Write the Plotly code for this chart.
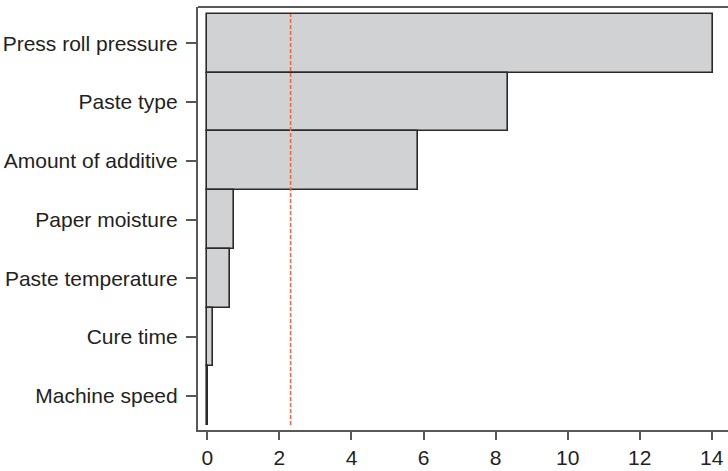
import plotly.graph_objects as go

categories = ["Press roll pressure", "Paste type", "Amount of additive",
              "Paper moisture", "Paste temperature", "Cure time", "Machine speed"]
effects = [14.04, 8.33, 5.85, 0.73, 0.63, 0.16, 0.02]
threshold = 2.31
x_ticks = [0, 2, 4, 6, 8, 10, 12, 14]

font_family = "Liberation Sans, Arial, Helvetica, sans-serif"
axis_col = "#585858"

fig = go.Figure()
fig.add_trace(go.Bar(
    x=effects, y=categories, orientation="h", base=0, width=1,
    marker=dict(color="#D1D2D4", line=dict(color="#2a2a2a", width=1.6)),
    showlegend=False, hoverinfo="skip",
))

fig.add_shape(type="line", x0=threshold, x1=threshold, xref="x",
              y0=-0.5, y1=len(categories) - 0.5, yref="y",
              line=dict(color="#F26A3E", width=1.6, dash="4px,2px"))
# top frame line
fig.add_shape(type="line", x0=0, x1=1, xref="paper", y0=1, y1=1, yref="paper",
              line=dict(color=axis_col, width=2.2))

fig.update_layout(
    width=728, height=471,
    margin=dict(l=198, r=0, t=7, b=41),
    paper_bgcolor="white", plot_bgcolor="white",
    bargap=0,
    font=dict(family=font_family, size=21, color="#231F20"),
)
fig.update_xaxes(
    range=[-0.26, 14.45], tickvals=x_ticks,
    showgrid=False, zeroline=False,
    showline=True, linecolor=axis_col, linewidth=2.2,
    ticks="outside", ticklen=8, tickwidth=1.6, tickcolor=axis_col,
    tickfont=dict(size=21, family=font_family, color="#231F20"),
)
fig.update_yaxes(
    type="category", categoryorder="array", categoryarray=list(reversed(categories)),
    range=[-0.585, 6.62],
    showgrid=False, zeroline=False,
    showline=True, linecolor=axis_col, linewidth=2.2,
    ticks="outside", ticklen=10, tickwidth=1.6, tickcolor=axis_col,
    ticklabelstandoff=4,
    tickfont=dict(size=21, family=font_family, color="#231F20"),
)

fig.write_html("out.html")
